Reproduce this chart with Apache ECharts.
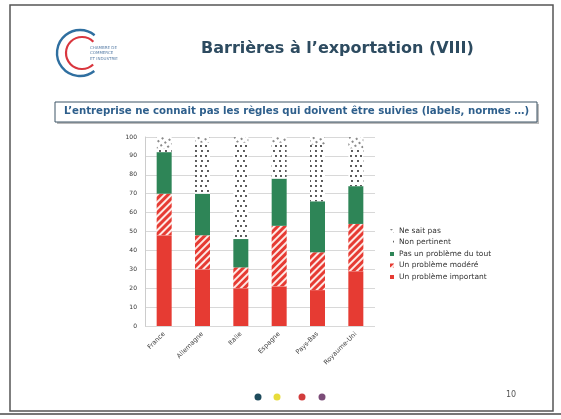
<!DOCTYPE html>
<html>
<head>
<meta charset="utf-8">
<script src="https://cdn.jsdelivr.net/npm/echarts@6/dist/echarts.min.js"></script>
<style>
  html, body { margin: 0; padding: 0; background: #fff; }
  #chart { width: 561px; height: 419px; }
</style>
</head>
<body>
<div id="chart"></div>
<script>
// pays (axe des categories)
var pays = ["France", "Allemagne", "Italie", "Espagne", "Pays-Bas", "Royaume-Uni"];
// reponses en %, de bas en haut de la pile
var important = [48, 30, 20, 21, 19, 29];
var modere = [22, 18, 11, 32, 20, 25];
var pasDuTout = [22, 22, 15, 25, 27, 20];
var nonPertinent = [2, 27, 51, 19, 30, 20];
var neSaitPas = [6, 3, 3, 3, 4, 6];
var yTicks = [0, 10, 20, 30, 40, 50, 60, 70, 80, 90, 100];

var rouge = "#e63b33";
var vert = "#2e8557";

var myChart = echarts.init(document.getElementById("chart"));

var option = {
  animation: false,
  backgroundColor: "#fff",
  graphic: [
    // cadre de la diapositive
    { type: "rect", shape: { x: 10, y: 5, width: 543, height: 406 }, style: { fill: "none", stroke: "#555", lineWidth: 1.5 } },
    { type: "line", shape: { x1: 0, y1: 414, x2: 561, y2: 414 }, style: { stroke: "#777", lineWidth: 2 } },
    // logo
    { type: "arc", shape: { cx: 80, cy: 53, r: 23, startAngle: 0.9, endAngle: 5.4 }, style: { stroke: "#2f6fa0", lineWidth: 2.4, fill: "none" } },
    { type: "arc", shape: { cx: 82, cy: 53, r: 16, startAngle: 0.8, endAngle: 5.5 }, style: { stroke: "#d9363e", lineWidth: 2.2, fill: "none" } },
    { type: "text", left: 90, top: 45, style: { text: "CHAMBRE DE\nCOMMERCE\nET INDUSTRIE", fontSize: 4, lineHeight: 5.5, fill: "#5a7fa8", fontFamily: "DejaVu Sans" } },
    // titre
    { type: "text", left: 201, top: 41, style: { text: "Barrières à l\u2019exportation (VIII)", fontSize: 16, fontWeight: "bold", fill: "#2d4b60", fontFamily: "DejaVu Sans" } },
    // encadre
    { type: "rect", shape: { x: 57, y: 104, width: 482, height: 20 }, style: { fill: "#bbb", stroke: "none" } },
    { type: "rect", shape: { x: 55, y: 102, width: 482, height: 20 }, style: { fill: "#fff", stroke: "#3d5566", lineWidth: 1 } },
    { type: "text", left: 64, top: 106, style: { text: "L\u2019entreprise ne connait pas les règles qui doivent être suivies (labels, normes \u2026)", fontSize: 10.2, fontWeight: "bold", fill: "#2e5f8c", fontFamily: "DejaVu Sans" } },
    // points en bas
    { type: "circle", shape: { cx: 258, cy: 397, r: 3.5 }, style: { fill: "#1e4b5c" } },
    { type: "circle", shape: { cx: 277, cy: 397, r: 3.5 }, style: { fill: "#e8dc3a" } },
    { type: "circle", shape: { cx: 302, cy: 397, r: 3.5 }, style: { fill: "#d23c3c" } },
    { type: "circle", shape: { cx: 322, cy: 397, r: 3.5 }, style: { fill: "#7b4c78" } },
    { type: "text", left: 506, top: 391, style: { text: "10", fontSize: 8, fill: "#555", fontFamily: "DejaVu Sans" } }
  ],
  legend: {
    orient: "vertical",
    left: 385,
    top: 222,
    itemWidth: 4,
    itemHeight: 4,
    itemGap: 3.5,
    icon: "rect",
    textStyle: { fontSize: 7.5, color: "#333", fontFamily: "DejaVu Sans" },
    data: ["Ne sait pas", "Non pertinent", "Pas un problème du tout", "Un problème modéré", "Un problème important"]
  },
  grid: { left: 145, right: 186, top: 137, bottom: 93 },
  xAxis: {
    type: "category",
    data: pays,
    axisLine: { show: false },
    axisTick: { show: false },
    axisLabel: { rotate: 45, fontSize: 6.5, color: "#444", margin: 7, interval: 0, fontFamily: "DejaVu Sans" }
  },
  yAxis: {
    type: "value",
    min: yTicks[0],
    max: yTicks[yTicks.length - 1],
    interval: 10,
    axisLine: { show: true, lineStyle: { color: "#ccc" } },
    axisTick: { show: false },
    axisLabel: { fontSize: 6, color: "#333", margin: 8, fontFamily: "DejaVu Sans" },
    splitLine: { lineStyle: { color: "#d8d8d8" } }
  },
  series: [
    {
      name: "Un problème important", type: "bar", stack: "total", barWidth: 15,
      data: important, itemStyle: { color: rouge }
    },
    {
      name: "Un problème modéré", type: "bar", stack: "total", barWidth: 15,
      data: modere,
      itemStyle: {
        color: "#fde8e4",
        decal: { symbol: "rect", symbolSize: 1, color: rouge, dashArrayX: [1, 0], dashArrayY: [2.5, 2], rotation: -Math.PI / 4 }
      }
    },
    {
      name: "Pas un problème du tout", type: "bar", stack: "total", barWidth: 15,
      data: pasDuTout, itemStyle: { color: vert }
    },
    {
      name: "Non pertinent", type: "bar", stack: "total", barWidth: 15,
      data: nonPertinent,
      itemStyle: {
        color: "#fff",
        decal: { symbol: "circle", symbolSize: 0.9, color: "#111", dashArrayX: [[2, 3], [0, 2.5, 2, 0.5]], dashArrayY: [2, 2.5], rotation: 0 }
      }
    },
    {
      name: "Ne sait pas", type: "bar", stack: "total", barWidth: 15,
      data: neSaitPas,
      itemStyle: {
        color: "#fff",
        decal: { symbol: "rect", symbolSize: 0.7, color: "#222", dashArrayX: [2, 3], dashArrayY: [1.5, 2.5], rotation: -0.6 }
      }
    }
  ]
};

myChart.setOption(option);
</script>
</body>
</html>
